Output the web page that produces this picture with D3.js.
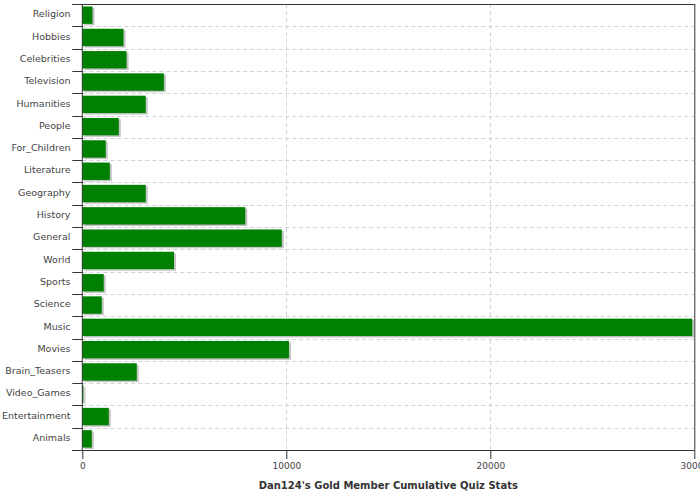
<!DOCTYPE html>
<html><head><meta charset="utf-8">
<script src="https://cdn.jsdelivr.net/npm/d3@7"></script>
<style>body{margin:0;background:#fff}svg{display:block}</style>
</head><body>
<svg id="c" width="700" height="500"></svg>
<script>
const categories = ["Religion","Hobbies","Celebrities","Television","Humanities","People","For_Children","Literature","Geography","History","General","World","Sports","Science","Music","Movies","Brain_Teasers","Video_Games","Entertainment","Animals"];
const values = [500,2020,2170,4000,3110,1790,1150,1350,3110,7990,9780,4495,1050,955,29900,10130,2670,60,1300,465];
const xTicks = [0,10000,20000,30000];
const title = "Dan124's Gold Member Cumulative Quiz Stats";

const svg = d3.select("#c");
const L = 82.3, R = 694.3, T = 4, B = 450;
const x = d3.scaleLinear().domain([0,30000]).range([L,R]);
const y = d3.scaleBand().domain(categories).range([T,B]).paddingInner(0.22).paddingOuter(0.11);
const step = y.step();
const grid = "#cdd4da";

// horizontal gridlines at band boundaries
const bounds = d3.range(categories.length+1).map(i => T + i*step);
svg.append("g").selectAll("line").data(bounds.slice(1,-1)).join("line")
  .attr("x1",L).attr("x2",R).attr("y1",d=>Math.round(d)+0.5).attr("y2",d=>Math.round(d)+0.5)
  .attr("stroke",grid).attr("stroke-dasharray","4,3");
// vertical gridlines
svg.append("g").selectAll("line").data(xTicks.slice(1,-1)).join("line")
  .attr("x1",d=>Math.round(x(d))+0.5).attr("x2",d=>Math.round(x(d))+0.5).attr("y1",T).attr("y2",B)
  .attr("stroke",grid).attr("stroke-dasharray","4,3");

// shadows
svg.append("g").selectAll("rect").data(values).join("rect")
  .attr("x",x(0)+2).attr("y",(d,i)=>y(categories[i])+1.5)
  .attr("width",d=>x(d)-x(0)).attr("height",y.bandwidth())
  .attr("fill","#c4c4c4");
// bars
svg.append("g").selectAll("rect").data(values).join("rect")
  .attr("x",x(0)).attr("y",(d,i)=>y(categories[i]))
  .attr("width",d=>x(d)-x(0)).attr("height",y.bandwidth())
  .attr("fill","#008000");

// frame
const ax = "#333";
svg.append("line").attr("x1",L-10).attr("x2",R).attr("y1",T+0.5).attr("y2",T+0.5).attr("stroke",ax);
svg.append("line").attr("x1",R+0.5).attr("x2",R+0.5).attr("y1",T).attr("y2",B).attr("stroke",ax);
svg.append("line").attr("x1",L).attr("x2",L).attr("y1",T).attr("y2",B).attr("stroke",ax);

// category ticks
svg.append("g").selectAll("line").data(bounds).join("line")
  .attr("x1",L-10).attr("x2",L).attr("y1",d=>Math.round(d)+0.5).attr("y2",d=>Math.round(d)+0.5)
  .attr("stroke",ax);
// category labels
svg.append("g").selectAll("text").data(categories).join("text")
  .attr("x",70.5).attr("y",d=>y(d)+y.bandwidth()/2+2.2)
  .attr("text-anchor","end").attr("font-family","DejaVu Sans").attr("font-size","9.5px")
  .attr("fill","#444").text(d=>d);

// value axis
const gx = svg.append("g").attr("transform",`translate(0,${B})`)
  .call(d3.axisBottom(x).tickValues(xTicks).tickFormat(d3.format("d")).tickSize(9).tickPadding(4));
gx.select(".domain").attr("stroke",ax).attr("d",`M${L-10},0.5H${R}`);
gx.selectAll(".tick line").attr("stroke",ax);
gx.selectAll("text").attr("font-family","DejaVu Sans").attr("font-size","9px").attr("fill","#444");

svg.append("text").attr("x",(L+R)/2).attr("y",489)
  .attr("text-anchor","middle").attr("font-family","DejaVu Sans").attr("font-weight","bold")
  .attr("font-size","10px").attr("fill","#333").text(title);
</script>
</body></html>
